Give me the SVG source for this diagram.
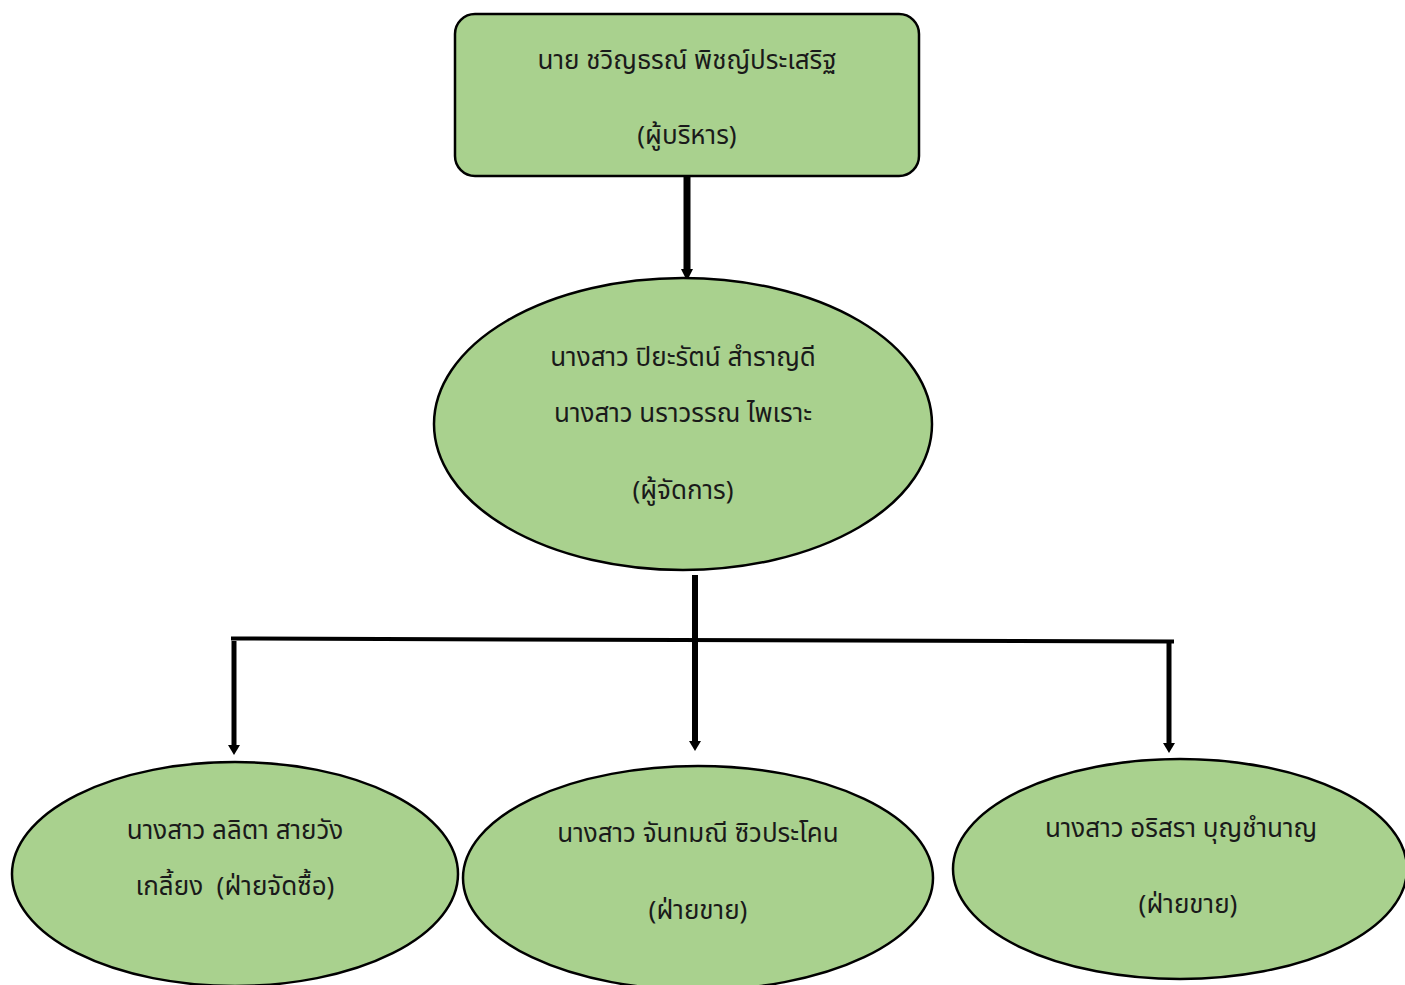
<svg xmlns="http://www.w3.org/2000/svg" width="1405" height="985" viewBox="0 0 1405 985">
<style>
.node{fill:#A9D18E;stroke:#000;stroke-width:2.5}
.t{font-family:"Noto Sans Thai","Noto Sans","DejaVu Sans",sans-serif;font-size:26px;fill:#1a1a1a;text-anchor:middle}
.c{stroke:#000;fill:none}
</style>
<rect width="1405" height="985" fill="#fff"/>
<g id="connectors">
<line class="c" x1="687" y1="176" x2="687" y2="270" stroke-width="7"/>
<path d="M681,269 L693,269 L687,281 Z" fill="#000"/>
<line class="c" x1="695" y1="575" x2="695" y2="742" stroke-width="6"/>
<path d="M689,741 L701,741 L695,751 Z" fill="#000"/>
<line class="c" x1="231" y1="638.5" x2="1174" y2="641.5" stroke-width="4"/>
<line class="c" x1="234" y1="641" x2="234" y2="746" stroke-width="5"/>
<path d="M228,745 L240,745 L234,755 Z" fill="#000"/>
<line class="c" x1="1169" y1="642" x2="1169" y2="744" stroke-width="5"/>
<path d="M1163,743 L1175,743 L1169,753 Z" fill="#000"/>
</g>
<g id="n-director">
<rect class="node" x="455" y="14" width="464" height="162" rx="20"/>
<text class="t" x="687" y="69">นาย ชวิญธรณ์ พิชญ์ประเสริฐ</text>
<text class="t" x="687" y="144">(ผู้บริหาร)</text>
</g>
<g id="n-manager">
<ellipse class="node" cx="683" cy="424" rx="249" ry="146"/>
<text class="t" x="683" y="366">นางสาว ปิยะรัตน์ สำราญดี</text>
<text class="t" x="683" y="422">นางสาว นราวรรณ ไพเราะ</text>
<text class="t" x="683" y="499">(ผู้จัดการ)</text>
</g>
<g id="n-purchasing">
<ellipse class="node" cx="235" cy="874" rx="223" ry="112"/>
<text class="t" x="235" y="839">นางสาว ลลิตา สายวัง</text>
<text class="t" x="235" y="895" xml:space="preserve">เกลี้ยง  (ฝ่ายจัดซื้อ)</text>
</g>
<g id="n-sales1">
<ellipse class="node" cx="698" cy="878" rx="235" ry="112"/>
<text class="t" x="698" y="842">นางสาว จันทมณี ซิวประโคน</text>
<text class="t" x="698" y="919">(ฝ่ายขาย)</text>
</g>
<g id="n-sales2">
<ellipse class="node" cx="1180" cy="869" rx="227" ry="110"/>
<text class="t" x="1181" y="837">นางสาว อริสรา บุญชำนาญ</text>
<text class="t" x="1188" y="913">(ฝ่ายขาย)</text>
</g>
</svg>
